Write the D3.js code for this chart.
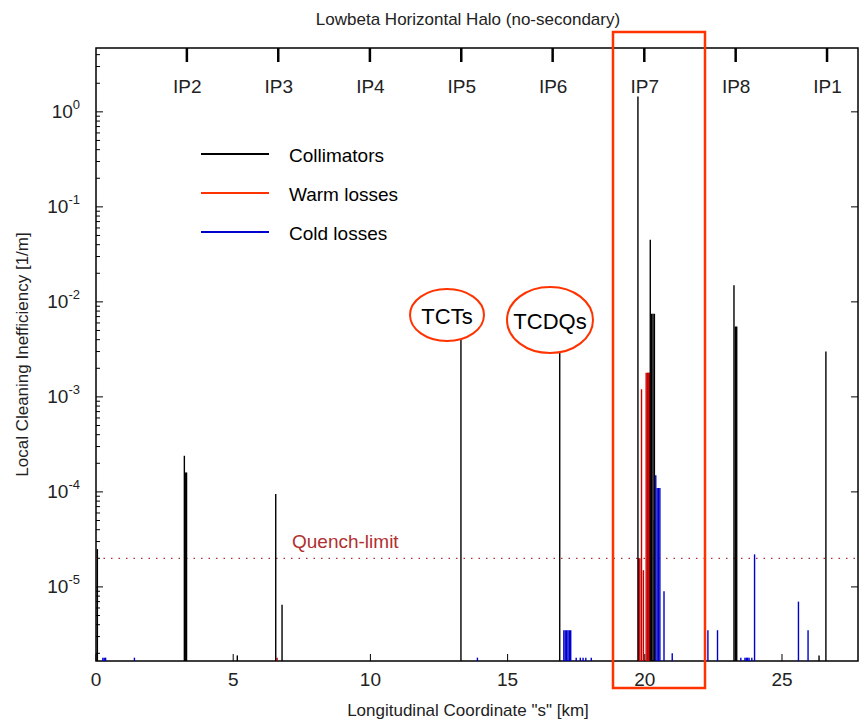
<!DOCTYPE html>
<html>
<head>
<meta charset="utf-8">
<script src="https://cdn.jsdelivr.net/npm/d3@7"></script>
<style>
body { margin: 0; background: #fff; }
text { font-family: "Liberation Sans", Arial, sans-serif; }
</style>
</head>
<body>
<svg id="chart" width="859" height="725"></svg>
<script>
// Loss positions [s in km] and values [1/m].
var collimatorS = [0.05, 3.22, 3.27, 3.30, 5.15, 6.55, 6.78, 13.3, 16.9, 19.75, 20.2, 20.25, 20.3, 20.35, 23.25, 23.3, 23.35, 26.35, 26.6];
var collimatorV = [2.5e-5, 2.4e-4, 1.6e-4, 1.6e-4, 1.9e-6, 9.5e-5, 6.5e-6, 4.0e-3, 3.0e-3, 1.45, 4.5e-2, 7.5e-3, 7.5e-3, 7.5e-3, 1.5e-2, 5.5e-3, 5.5e-3, 1.9e-6, 3.0e-3];

var warmS = [6.6, 19.78, 19.82, 19.88, 19.95, 20.05, 20.1, 20.12, 20.15, 20.18];
var warmV = [1.8e-6, 2.0e-5, 2.0e-5, 1.2e-3, 1.5e-5, 1.8e-3, 1.8e-3, 1.8e-3, 1.8e-3, 1.8e-3];

var coldS = [0.25, 0.3, 0.35, 1.4, 13.9, 17.05, 17.1, 17.15, 17.2, 17.25, 17.3, 17.5, 17.65, 17.75, 17.85, 18.05, 20.35, 20.4, 20.45, 20.5, 20.55, 20.7, 21.0, 22.3, 22.65, 23.5, 23.65, 23.7, 23.75, 23.8, 23.9, 24.0, 25.6, 25.95];
var coldV = [1.8e-6, 1.8e-6, 1.8e-6, 1.8e-6, 1.8e-6, 3.5e-6, 3.5e-6, 3.5e-6, 3.5e-6, 3.5e-6, 3.5e-6, 1.8e-6, 1.8e-6, 1.8e-6, 1.8e-6, 1.8e-6, 5.0e-5, 1.5e-4, 1.1e-4, 1.1e-4, 1.1e-4, 9.0e-6, 2.0e-6, 3.5e-6, 3.5e-6, 1.8e-6, 1.8e-6, 1.8e-6, 1.8e-6, 1.8e-6, 1.8e-6, 2.2e-5, 7.0e-6, 3.5e-6];

var ipNames = ["IP2", "IP3", "IP4", "IP5", "IP6", "IP7", "IP8", "IP1"];
var ipS = [3.33, 6.66, 10.0, 13.33, 16.66, 20.0, 23.33, 26.66];
var xTicks = [0, 5, 10, 15, 20, 25];
var yDecades = [0, -1, -2, -3, -4, -5];
var quenchLimit = 2e-5;

var svg = d3.select('#chart');
var pLeft = 96, pRight = 858, pTop = 48, pBottom = 661;

var x = d3.scaleLinear().domain([0, 27.77]).range([pLeft, pRight]);
var y = d3.scaleLog().domain([1.66e-6, 4.7]).range([pBottom, pTop]);

// frame
svg.append('rect').attr('x', pLeft).attr('y', pTop)
    .attr('width', pRight - pLeft).attr('height', pBottom - pTop)
    .attr('fill', 'none').attr('stroke', '#000').attr('stroke-width', 1.5);

// log ticks, left and right
var minor = [];
for (var e = -6; e <= 0; e++) {
    for (var m = 1; m < 10; m++) {
        var v = m * Math.pow(10, e);
        if (v >= 1.66e-6 && v <= 4.7) minor.push({v: v, major: m === 1});
    }
}
svg.selectAll('.ytl').data(minor).enter().append('line')
    .attr('x1', pLeft).attr('x2', function(d) { return pLeft + (d.major ? 7 : 4); })
    .attr('y1', function(d) { return y(d.v); }).attr('y2', function(d) { return y(d.v); })
    .attr('stroke', '#000');
svg.selectAll('.ytr').data(minor.filter(function(d) { return d.major; })).enter().append('line')
    .attr('x1', pRight - 7).attr('x2', pRight)
    .attr('y1', function(d) { return y(d.v); }).attr('y2', function(d) { return y(d.v); })
    .attr('stroke', '#000');

var yl = svg.selectAll('.ylab').data(yDecades).enter().append('text')
    .attr('x', 80).attr('y', function(d) { return y(Math.pow(10, d)) + 6; })
    .attr('text-anchor', 'end').attr('font-size', 19).attr('fill', '#222');
yl.append('tspan').text('10');
yl.append('tspan').attr('dy', -9).attr('font-size', 13).text(function(d) { return d; });

// bottom ticks
svg.selectAll('.xt').data(xTicks).enter().append('line')
    .attr('x1', function(d) { return x(d); }).attr('x2', function(d) { return x(d); })
    .attr('y1', pBottom).attr('y2', pBottom - 7).attr('stroke', '#000');
svg.selectAll('.xl').data(xTicks).enter().append('text')
    .attr('x', function(d) { return x(d); }).attr('y', pBottom + 25)
    .attr('text-anchor', 'middle').attr('font-size', 19).attr('fill', '#222')
    .text(function(d) { return d; });

// IP ticks on top
svg.selectAll('.ipt').data(ipS).enter().append('line')
    .attr('x1', function(d) { return x(d) - 0.5; }).attr('x2', function(d) { return x(d) - 0.5; })
    .attr('y1', pTop).attr('y2', pTop + 14).attr('stroke', '#000').attr('stroke-width', 2.5);
svg.selectAll('.ipl').data(ipS).enter().append('text')
    .attr('x', function(d) { return x(d); }).attr('y', pTop + 45)
    .attr('text-anchor', 'middle').attr('font-size', 19).attr('fill', '#222')
    .text(function(d, i) { return ipNames[i]; });

// titles
svg.append('text').attr('x', 468).attr('y', 25).attr('text-anchor', 'middle')
    .attr('font-size', 17).attr('fill', '#222').text('Lowbeta Horizontal Halo (no-secondary)');
svg.append('text').attr('x', 468).attr('y', 716).attr('text-anchor', 'middle')
    .attr('font-size', 17).attr('fill', '#222').text('Longitudinal Coordinate "s" [km]');
svg.append('text').attr('transform', 'translate(28,' + (pTop + pBottom) / 2 + ') rotate(-90)')
    .attr('text-anchor', 'middle').attr('font-size', 17).attr('fill', '#222')
    .text('Local Cleaning Inefficiency [1/m]');

// quench limit
svg.append('line').attr('x1', pLeft).attr('x2', pRight)
    .attr('y1', y(quenchLimit)).attr('y2', y(quenchLimit))
    .attr('stroke', '#b03030').attr('stroke-width', 1.3).attr('stroke-dasharray', '1.5,6');
svg.append('text').attr('x', 292).attr('y', y(quenchLimit) - 10)
    .attr('font-size', 19).attr('fill', '#b03030').text('Quench-limit');

function drawBars(sArr, vArr, color) {
    svg.append('g').selectAll('line').data(sArr).enter().append('line')
        .attr('x1', function(d) { return x(d); }).attr('x2', function(d) { return x(d); })
        .attr('y1', pBottom).attr('y2', function(d, i) { return y(vArr[i]); })
        .attr('stroke', color).attr('stroke-width', 1.4);
}
drawBars(coldS, coldV, '#0000cc');
drawBars(warmS, warmV, '#cc0000');
drawBars(collimatorS, collimatorV, '#000');

// legend
var legend = [['Collimators', '#000'], ['Warm losses', '#ff3300'], ['Cold losses', '#0000cc']];
legend.forEach(function(l, i) {
    var ly = 154 + i * 39;
    svg.append('line').attr('x1', 201).attr('x2', 269).attr('y1', ly).attr('y2', ly)
        .attr('stroke', l[1]).attr('stroke-width', 2);
    svg.append('text').attr('x', 289).attr('y', ly + 8).attr('font-size', 19)
        .attr('font-family', '"DejaVu Sans"').text(l[0]);
});

// annotations
svg.append('ellipse').attr('cx', 447).attr('cy', 315).attr('rx', 37).attr('ry', 26)
    .attr('fill', 'none').attr('stroke', '#ff3300').attr('stroke-width', 2);
svg.append('text').attr('x', 447).attr('y', 324).attr('text-anchor', 'middle')
    .attr('font-size', 22).attr('font-family', '"DejaVu Sans"').text('TCTs');
svg.append('ellipse').attr('cx', 550).attr('cy', 320).attr('rx', 43).attr('ry', 33)
    .attr('fill', 'none').attr('stroke', '#ff3300').attr('stroke-width', 2);
svg.append('text').attr('x', 550).attr('y', 329).attr('text-anchor', 'middle')
    .attr('font-size', 22).attr('font-family', '"DejaVu Sans"').text('TCDQs');
svg.append('rect').attr('x', 613).attr('y', 32).attr('width', 92).attr('height', 656)
    .attr('fill', 'none').attr('stroke', '#ff3300').attr('stroke-width', 2.5);
</script>
</body>
</html>
